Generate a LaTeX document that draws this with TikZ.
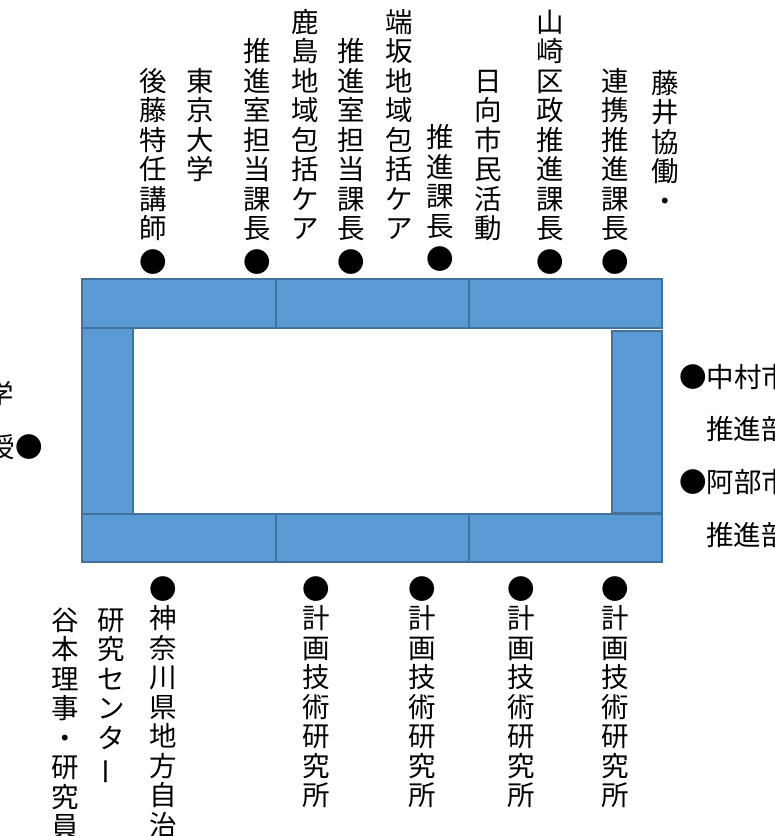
\documentclass[tikz,border=0pt]{standalone}
\usepackage{fontspec}
\usepackage{graphicx}
\setmainfont{Noto Sans CJK JP}
\definecolor{tblfill}{HTML}{5B9BD5}
\definecolor{tbledge}{HTML}{41719C}
\tikzset{
  tbl/.style={fill=tblfill, draw=tbledge, line width=1.6pt},
  ch/.style={anchor=base, inner sep=0pt, font=\fontsize{27.5}{29.5}\selectfont, text=black},
  hch/.style={inner sep=0pt, font=\fontsize{27.5}{29.5}\selectfont, text=black},
}
\newcommand\vcol[4]{%
  \foreach \c [count=\i] in {#4} \node[ch] (#1-\i) at (#2, {#3+(\i-1)*29.5}) {\c};%
}
\newcommand\lowdot{\raisebox{-4pt}{●}}
\begin{document}
\begin{tikzpicture}[x=1pt,y=-1pt]
\useasboundingbox[fill=white] (0,0) rectangle (775,836);
% tables
\draw[tbl] (82,279) rectangle (276,328);
\draw[tbl] (276,279) rectangle (469,328);
\draw[tbl] (469,279) rectangle (662,328);
\draw[tbl] (82,328) rectangle (133,514);
\draw[tbl] (612,331) rectangle (662,513);
\draw[tbl] (82,514) rectangle (276,562);
\draw[tbl] (276,514) rectangle (469,562);
\draw[tbl] (469,514) rectangle (662,562);
% top columns
\vcol{c1}{153}{91}{後,藤,特,任,講,師,\lowdot}
\vcol{c2}{200}{91}{東,京,大,学}
\vcol{c3}{257}{61.5}{推,進,室,担,当,課,長,\lowdot}
\vcol{c4}{305}{32}{鹿,島,地,域,包,括,ケ,ア}
\vcol{c5}{351}{61.5}{推,進,室,担,当,課,長,\lowdot}
\vcol{c6}{399}{32}{端,坂,地,域,包,括,ケ,ア}
\vcol{c7}{440}{147.5}{推,進,課,長,\lowdot}
\vcol{c8}{488}{91}{日,向,市,民,活,動}
\vcol{c9}{550}{32}{山,崎,区,政,推,進,課,長,\lowdot}
\vcol{c10}{615}{91}{連,携,推,進,課,長,\lowdot}
\vcol{c11}{665}{93}{藤,井,協,働,・}
% bottom columns
\vcol{b1}{163}{599.3}{●,神,奈,川,県,地,方,自,治}
\vcol{b2}{111}{630}{研,究,セ,ン,タ,{\rotatebox[origin=c]{90}{ー}}}
\vcol{b3}{65}{630}{谷,本,理,事,・,研,究,員}
\vcol{b4}{316}{599.3}{●,計,画,技,術,研,究,所}
\vcol{b5}{422}{599.3}{●,計,画,技,術,研,究,所}
\vcol{b6}{521}{599.3}{●,計,画,技,術,研,究,所}
\vcol{b7}{615}{599.3}{●,計,画,技,術,研,究,所}
% left side
\node[hch, anchor=base east] (l1) at (14,404) {学};
\node[hch, anchor=base east] (l2) at (43,457) {授●};
% right side
\node[hch, anchor=base west] (r1) at (679,387) {●中村市};
\node[hch, anchor=base west] (r2) at (706,439) {推進部};
\node[hch, anchor=base west] (r3) at (679,492) {●阿部市};
\node[hch, anchor=base west] (r4) at (706,545) {推進部};
\end{tikzpicture}
\end{document}
